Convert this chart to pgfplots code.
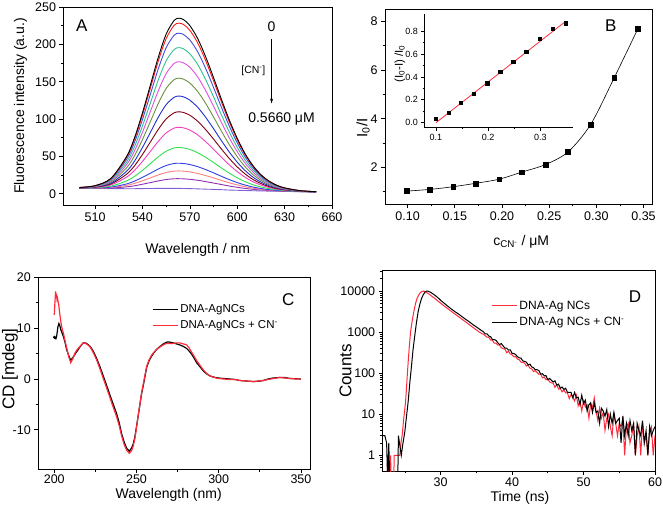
\documentclass[border=0pt]{standalone}
\usepackage{fontspec}
\setmainfont{Liberation Sans}
\usepackage{pgfplots}
\pgfplotsset{compat=1.18}
\usepackage{pgfplotstable}
\usetikzlibrary{arrows.meta}

\definecolor{k1}{HTML}{000000}
\definecolor{k2}{HTML}{FF1A1A}
\definecolor{k3}{HTML}{4050D8}
\definecolor{k4}{HTML}{30C090}
\definecolor{k5}{HTML}{E050E0}
\definecolor{k6}{HTML}{6A9040}
\definecolor{k7}{HTML}{2030D0}
\definecolor{k8}{HTML}{800010}
\definecolor{k9}{HTML}{F040C0}
\definecolor{k10}{HTML}{30E050}
\definecolor{k11}{HTML}{3040E8}
\definecolor{k12}{HTML}{FF8080}
\definecolor{k13}{HTML}{9030B0}
\definecolor{k14}{HTML}{8060D8}
\definecolor{cdred}{HTML}{FF2A3A}

\pgfplotstableread{
x c1 c2 c3 c4 c5 c6 c7 c8 c9 c10 c11 c12 c13 c14
500 8.4 8.4 8.3 8.3 8.2 8.1 8.0 7.9 7.8 7.7 7.6 7.6 7.6 7.5
510 10.9 10.8 10.6 10.2 9.9 9.6 9.2 8.9 8.5 8.1 7.8 7.6 7.4 7.2
520 20.6 20.2 19.4 18.2 17.1 15.8 14.3 13.1 11.8 10.2 8.9 8.3 7.7 6.9
530 50.1 48.9 46.3 42.6 39.1 34.9 30.3 26.3 22.4 17.3 13.2 11.3 9.3 6.8
535 75.2 73.2 69.2 63.4 57.7 51.1 43.9 37.6 31.4 23.3 17.0 13.9 10.7 6.8
540 108.4 105.4 99.4 90.8 82.4 72.6 62.0 52.6 43.4 31.4 22.0 17.4 12.8 7.0
545 145.4 141.4 133.2 121.5 110.0 96.6 82.1 69.3 56.7 40.4 27.5 21.3 15.0 7.1
550 182.6 177.5 167.1 152.3 137.7 120.8 102.4 86.1 70.2 49.4 33.1 25.2 17.2 7.2
555 213.7 207.7 195.5 178.0 160.9 141.0 119.3 100.2 81.4 57.0 37.9 28.5 19.1 7.3
560 231.9 225.4 212.1 193.0 174.4 152.7 129.1 108.3 87.9 61.3 40.5 30.3 20.1 7.3
563 235.0 228.4 214.9 195.6 176.7 154.7 130.8 109.7 89.0 62.0 40.9 30.6 20.2 7.2
566 233.1 226.5 213.1 194.0 175.2 153.4 129.7 108.8 88.2 61.4 40.5 30.3 20.0 7.1
570 225.2 218.8 205.9 187.4 169.3 148.2 125.3 105.1 85.3 59.4 39.2 29.3 19.4 6.9
575 207.6 201.8 189.9 172.9 156.2 136.8 115.7 97.0 78.8 54.9 36.3 27.2 18.1 6.6
580 183.4 178.3 167.8 152.8 138.1 121.0 102.4 85.9 69.8 48.8 32.4 24.4 16.3 6.2
585 155.5 151.2 142.3 129.7 117.2 102.8 87.1 73.2 59.6 41.9 28.0 21.3 14.4 5.9
590 126.4 122.9 115.7 105.5 95.5 83.8 71.1 59.9 48.9 34.6 23.4 17.9 12.4 5.5
595 98.7 96.0 90.4 82.5 74.7 65.7 55.8 47.2 38.7 27.6 18.9 14.7 10.4 5.0
600 74.2 72.2 68.1 62.2 56.4 49.7 42.4 36.0 29.7 21.5 15.0 11.9 8.7 4.7
605 53.6 52.2 49.3 45.1 41.0 36.2 31.1 26.5 22.1 16.2 11.7 9.4 7.2 4.4
610 37.6 36.6 34.6 31.8 29.0 25.7 22.2 19.1 16.1 12.1 9.0 7.5 6.0 4.1
615 25.6 25.0 23.7 21.9 20.1 18.0 15.7 13.7 11.7 9.1 7.1 6.1 5.1 3.8
620 17.2 16.8 16.0 14.8 13.7 12.4 11.0 9.7 8.5 6.9 5.6 5.0 4.4 3.6
625 11.5 11.3 10.8 10.1 9.4 8.7 7.8 7.0 6.3 5.4 4.6 4.2 3.9 3.4
630 7.9 7.7 7.5 7.1 6.7 6.2 5.7 5.3 4.9 4.3 3.9 3.7 3.5 3.2
640 4.1 4.1 4.0 3.9 3.8 3.7 3.5 3.4 3.3 3.1 3.0 3.0 2.9 2.8
650 2.8 2.8 2.8 2.8 2.7 2.7 2.7 2.6 2.6 2.6 2.5 2.5 2.5 2.5
}\specA

\pgfplotstableread{
x y
0.099 1.03
0.1236 1.10
0.1483 1.21
0.172 1.35
0.197 1.52
0.221 1.81
0.246 2.12
0.270 2.64
0.294 3.77
0.319 5.69
0.344 7.70
}\ratioB

\pgfplotstableread{
x y
0.100 0.032
0.1236 0.088
0.1479 0.172
0.173 0.251
0.198 0.345
0.223 0.447
0.248 0.531
0.273 0.622
0.299 0.736
0.323 0.823
0.348 0.870
}\insetB

\begin{document}
\begin{tikzpicture}
\path[use as bounding box] (0pt,0pt) rectangle (663pt,506pt);
\pgfplotsset{
  every axis/.append style={
    scale only axis, anchor=south west,
    tick align=outside, xtick pos=bottom, ytick pos=left,
    /pgf/number format/assume math mode=true,
    tick label style={font=\fontsize{12.5}{15}\selectfont, black},
    label style={font=\fontsize{14}{17}\selectfont},
    axis line style={line width=0.8pt},
    major tick length=4pt, minor tick length=2.5pt,
    every tick/.style={black, line width=0.7pt},
  },
}
% ---------------- A
\begin{axis}[at={(63.5pt,301pt)}, width=268.5pt, height=198pt,
  xmin=490, xmax=660, ymin=-15, ymax=250,
  xtick={510,540,570,600,630,660}, minor x tick num=1,
  ytick={0,50,100,150,200,250}, minor y tick num=1,
  xlabel={Wavelength / nm}, ylabel={Fluorescence intensity (a.u.)},
  xlabel style={at={(axis description cs:0.5,-0.225)}, anchor=center},
  ylabel style={at={(axis description cs:-0.16,0.5)}, anchor=center},
  every axis plot/.append style={line width=0.9pt, smooth}]
\addplot[k14] table[x=x,y=c14]{\specA};
\addplot[k13] table[x=x,y=c13]{\specA};
\addplot[k12] table[x=x,y=c12]{\specA};
\addplot[k11] table[x=x,y=c11]{\specA};
\addplot[k10] table[x=x,y=c10]{\specA};
\addplot[k9] table[x=x,y=c9]{\specA};
\addplot[k8] table[x=x,y=c8]{\specA};
\addplot[k7] table[x=x,y=c7]{\specA};
\addplot[k6] table[x=x,y=c6]{\specA};
\addplot[k5] table[x=x,y=c5]{\specA};
\addplot[k4] table[x=x,y=c4]{\specA};
\addplot[k3] table[x=x,y=c3]{\specA};
\addplot[k2] table[x=x,y=c2]{\specA};
\addplot[k1] table[x=x,y=c1]{\specA};
\node at (rel axis cs:0.068,0.905) {\fontsize{17}{20}\selectfont A};
\node at (rel axis cs:0.775,0.9) {\fontsize{14}{17}\selectfont 0};
\draw[-{Stealth[length=5pt,width=3pt]}, line width=0.5pt] (rel axis cs:0.775,0.838) -- (rel axis cs:0.775,0.513);
\node at (rel axis cs:0.707,0.677) {\fontsize{10.5}{12}\selectfont [CN\textsuperscript{-}]};
\node at (rel axis cs:0.812,0.434) {\fontsize{14}{17}\selectfont 0.5660 μM};
\end{axis}
% ---------------- B
\begin{axis}[at={(385pt,302pt)}, width=267pt, height=194.7pt,
  xmin=0.076, xmax=0.359, ymin=0.5, ymax=8.5,
  xtick={0.1,0.15,0.2,0.25,0.3,0.35}, minor x tick num=1,
  xticklabel style={/pgf/number format/.cd, fixed, fixed zerofill, precision=2},
  ytick={2,4,6,8}, minor ytick={1,3,5,7},
  xlabel={c\textsubscript{CN\textsuperscript{-}} / μM},
  ylabel={\fontsize{15}{17}\selectfont I\textsubscript{0}/I},
  xlabel style={at={(axis description cs:0.51,-0.194)}, anchor=center},
  ylabel style={at={(axis description cs:-0.082,0.39)}, anchor=center}]
\addplot[black, line width=0.6pt, smooth] table{\ratioB};
\addplot[black, only marks, mark=square*, mark size=2.4pt] table{\ratioB};
\node at (rel axis cs:0.846,0.915) {\fontsize{17}{20}\selectfont B};
\end{axis}
% ---------------- B inset
\begin{axis}[at={(424.3pt,378.3pt)}, width=148.4pt, height=113.7pt,
  axis x line*=bottom, axis y line*=left,
  x axis line style={-}, y axis line style={-},
  xmin=0.0776, xmax=0.362, ymin=-0.044, ymax=0.951,
  xtick={0.1,0.2,0.3}, minor x tick num=1,
  ytick={0,0.2,0.4,0.6,0.8}, minor y tick num=1,
  xticklabel style={/pgf/number format/.cd, fixed, fixed zerofill, precision=1},
  yticklabel style={/pgf/number format/.cd, fixed, fixed zerofill, precision=1},
  tick label style={font=\fontsize{9}{10}\selectfont},
  major tick length=3pt, minor tick length=1.8pt,
  ylabel={(I\textsubscript{0}-I) /I\textsubscript{0}},
  ylabel style={font=\fontsize{11.5}{13}\selectfont, at={(axis description cs:-0.165,0.56)}, anchor=center}]
\addplot[cdred, line width=0.8pt] coordinates {(0.100,0.000) (0.348,0.885)};
\addplot[black, only marks, mark=square*, mark size=1.6pt] table{\insetB};
\end{axis}
% ---------------- C
\begin{axis}[at={(38.3pt,37pt)}, width=271.7pt, height=191.7pt,
  xmin=190.3, xmax=355.5, ymin=-17.7, ymax=20,
  xtick={200,250,300,350}, minor x tick num=1,
  ytick={-10,0,10,20}, minor y tick num=1,
  xticklabel style={yshift=1.5pt},
  xlabel={Wavelength (nm)}, ylabel={\fontsize{17}{20}\selectfont CD [mdeg]},
  xlabel style={at={(axis description cs:0.48,-0.134)}, anchor=center},
  ylabel style={at={(axis description cs:-0.104,0.52)}, anchor=center},
  legend style={draw=none, fill=none, at={(rel axis cs:0.418,0.868)}, anchor=north west,
    font=\fontsize{11.5}{13}\selectfont, inner sep=0pt, row sep=2.5pt},
  legend cell align=left,
  legend image code/.code={\draw[#1, line width=1.3pt] (0pt,0pt) -- (25pt,0pt);}]
\addplot[black, line width=1.2pt] coordinates {
(200.0,8.2) (200.5,8.0) (201.0,7.9) (201.5,8.5) (202.2,10.2) (202.8,10.9) (203.3,10.6) (204.0,9.7) (204.8,9.0) (205.5,8.4) (206.5,7.3) (207.5,5.8) (208.8,4.6) (210.0,3.7) (211.3,4.2) (212.6,4.9) (214.0,5.5) (215.6,6.3) (217.6,7.1) (219.0,7.1) (220.0,6.9) (221.5,6.5) (222.7,6.0) (224.0,5.3) (225.7,4.1) (227.8,2.4) (229.8,0.6) (231.8,-1.2) (233.9,-3.2) (235.9,-5.0) (237.9,-6.8) (239.5,-8.6) (240.9,-10.7) (242.5,-12.4) (244.0,-13.6) (245.6,-14.2) (247.0,-13.6) (248.0,-12.8) (249.0,-11.4) (250.0,-9.4) (251.1,-7.1) (252.1,-5.0) (253.1,-2.9) (254.6,-0.5) (256.2,2.3) (257.7,3.6) (259.2,4.5) (260.7,5.2) (262.2,5.8) (264.3,6.4) (266.3,6.9) (268.0,7.2) (269.3,7.3) (271.0,7.2) (272.4,7.1) (274.4,6.9) (276.4,6.7) (278.5,6.4) (280.5,6.0) (282.0,5.5) (283.5,4.9) (285.0,4.1) (286.6,3.2) (288.6,2.4) (290.6,1.6) (292.7,1.0) (294.7,0.6) (297.2,0.35) (299.7,0.2) (303.0,0.1) (306.8,0.0) (310.0,-0.1) (312.9,-0.3) (317.0,-0.4) (321.0,-0.5) (324.0,-0.45) (327.1,-0.3) (330.0,0.0) (333.2,0.2) (337.2,0.3) (340.0,0.3) (343.3,0.1) (347.0,0.05) (350.0,0.0)};
\addlegendentry{DNA-AgNCs}
\addplot[cdred, line width=1.2pt] coordinates {
(200.0,12.6) (200.4,15.0) (200.8,17.2) (201.1,16.2) (201.4,16.4) (201.7,15.6) (202.0,15.9) (202.3,15.2) (202.6,14.9) (203.0,13.8) (203.4,12.7) (204.2,10.8) (205.0,9.6) (205.5,9.1) (206.5,7.6) (207.5,6.2) (208.8,4.4) (210.0,3.2) (211.3,4.0) (212.6,5.1) (214.0,5.8) (215.6,6.4) (217.6,7.1) (219.0,7.0) (220.0,6.8) (221.5,6.4) (222.7,5.8) (224.0,5.0) (225.7,3.8) (227.8,2.0) (229.8,0.1) (231.8,-1.7) (233.9,-3.7) (235.9,-5.6) (237.9,-7.4) (239.5,-9.2) (240.9,-11.1) (242.5,-12.9) (244.0,-14.0) (245.6,-14.6) (247.0,-14.1) (248.0,-13.2) (249.0,-11.8) (250.0,-9.6) (251.1,-7.0) (252.1,-4.9) (253.1,-2.7) (254.6,-0.2) (256.2,2.5) (257.7,3.8) (259.2,4.7) (260.7,5.3) (262.2,5.8) (264.3,6.3) (266.3,6.7) (268.0,7.0) (269.3,7.0) (271.0,7.0) (272.4,7.0) (274.4,7.1) (276.4,7.1) (278.5,6.9) (280.5,6.7) (282.0,6.1) (283.5,5.3) (285.0,4.5) (286.6,3.6) (288.6,2.7) (290.6,1.8) (292.7,1.1) (294.7,0.6) (297.2,0.3) (299.7,0.1) (303.0,0.0) (306.8,-0.1) (310.0,-0.1) (312.9,-0.3) (317.0,-0.4) (321.0,-0.5) (324.0,-0.4) (327.1,-0.3) (330.0,-0.1) (333.2,0.1) (337.2,0.3) (340.0,0.2) (343.3,0.1) (347.0,0.0) (350.0,0.0)};
\addlegendentry{DNA-AgNCs + CN\textsuperscript{-}}
\addplot[black, only marks, mark=*, mark size=1.4pt, forget plot] coordinates {(200.2,8.2)};
\node at (rel axis cs:0.92,0.882) {\fontsize{17}{20}\selectfont C};
\end{axis}
% ---------------- D
\begin{axis}[at={(382.7pt,35pt)}, width=272.3pt, height=200.3pt,
  ymode=log, xmin=21.9, xmax=60, ymin=0.414, ymax=31250,
  xtick={30,40,50,60}, minor xtick={25,35,45,55},
  ytick={1,10,100,1000,10000}, yticklabels={1,10,100,1000,10000},
  minor ytick={0.5,0.6,0.7,0.8,0.9,2,3,4,5,6,7,8,9,20,30,40,50,60,70,80,90,200,300,400,500,600,700,800,900,2000,3000,4000,5000,6000,7000,8000,9000,20000,30000},
  xticklabel style={yshift=1pt},
  xlabel={Time (ns)}, ylabel={\fontsize{17}{20}\selectfont Counts},
  xlabel style={at={(axis description cs:0.504,-0.135)}, anchor=center},
  ylabel style={at={(axis description cs:-0.137,0.5)}, anchor=center},
  legend style={draw=none, fill=none, at={(rel axis cs:0.398,0.86)}, anchor=north west,
    font=\fontsize{12}{14}\selectfont, inner sep=0pt, row sep=2.5pt},
  legend cell align=left,
  legend image code/.code={\draw[#1, line width=1.2pt] (0pt,0pt) -- (25pt,0pt);}]
\addplot[cdred, line width=1pt] coordinates {
(21.9,0.2) (22.5,0.2) (22.6,1) (22.7,0.2) (22.9,0.2) (23.0,1) (23.1,0.2) (23.45,0.2) (23.5,1) (24.1,1) (24.3,1) (24.45,2) (24.65,3.3) (24.8,6.6) (25.1,20) (25.25,50) (25.4,130) (25.6,400) (25.8,1020) (26.05,2000) (26.3,3450) (26.5,5000) (26.7,6600) (26.95,8100) (27.2,9300) (27.6,10000) (27.9,9500) (28.3,8600) (28.8,7400) (29.3,6350) (29.8,5400) (30.3,4600) (30.8,3950) (31.3,3400) (31.8,2920) (32.3,2520) (32.8,2180) (33.3,1880) (33.8,1620) (34.3,1390) (34.8,1200) (35.3,1030) (35.8,910)
(36.00,890) (36.25,815) (36.50,749) (36.75,748) (37.00,633) (37.25,633) (37.50,538) (37.75,539) (38.00,483) (38.25,488) (38.50,411) (38.75,396) (39.00,385) (39.25,314) (39.50,341) (39.75,295) (40.00,280) (40.25,249) (40.50,254) (40.75,220) (41.00,213) (41.25,185) (41.50,182) (41.75,175) (42.00,150) (42.25,155) (42.50,132) (42.75,127) (43.00,109) (43.25,115) (43.50,104) (43.75,94) (44.00,95) (44.25,77) (44.50,80) (44.75,69) (45.00,73) (45.25,61) (45.50,58) (45.75,57) (46.00,45) (46.25,53) (46.50,41) (46.75,42) (47.00,35) (47.25,39) (47.50,33) (47.75,33) (48.00,24) (48.25,30) (48.50,26) (48.75,21) (49.00,29) (49.25,16) (49.50,21) (49.75,12) (50.00,21) (50.25,15) (50.50,17) (50.75,8) (51.00,18) (51.25,14) (51.50,25) (51.75,12) (52.00,7) (52.25,14) (52.50,8) (52.75,11) (53.00,4) (53.25,8) (53.50,10) (53.75,5) (54.00,3) (54.25,10) (54.50,6) (54.75,3) (55.00,6) (55.25,5) (55.50,8) (55.75,1) (56.00,5) (56.25,6) (56.50,2) (56.75,3) (57.00,6) (57.25,1) (57.50,3) (57.75,5) (58.00,1) (58.25,6) (58.50,2) (58.75,3) (59.00,1) (59.25,4) (59.50,5) (59.75,1) (60.00,3)};
\addlegendentry{DNA-Ag NCs}
\addplot[black, line width=1pt] coordinates {
(21.9,3) (22.2,3) (22.45,2) (22.6,0.2) (22.75,2) (22.9,0.2) (24.0,0.2) (24.1,3) (24.5,1) (24.7,1.8) (25.0,3.8) (25.2,8) (25.46,20) (25.7,60) (25.94,155) (26.15,380) (26.4,850) (26.6,1600) (26.86,3150) (27.1,4800) (27.34,6600) (27.6,8300) (27.85,9500) (28.04,10000) (28.3,9850) (28.7,9100) (29.2,7900) (29.7,6700) (30.0,5950) (30.5,5050) (31.0,4280) (31.5,3650) (32.0,3150) (32.5,2760) (33.0,2380) (33.5,2050) (34.0,1790) (34.5,1530) (35.0,1340) (35.5,1160)
(36.00,1013) (36.25,904) (36.50,907) (36.75,801) (37.00,772) (37.25,659) (37.50,654) (37.75,633) (38.00,550) (38.25,498) (38.50,526) (38.75,460) (39.00,407) (39.25,406) (39.50,365) (39.75,369) (40.00,303) (40.25,300) (40.50,284) (40.75,251) (41.00,236) (41.25,232) (41.50,199) (41.75,193) (42.00,186) (42.25,158) (42.50,166) (42.75,142) (43.00,136) (43.25,121) (43.50,121) (43.75,116) (44.00,95) (44.25,97) (44.50,86) (44.75,87) (45.00,69) (45.25,74) (45.50,67) (45.75,61) (46.00,65) (46.25,51) (46.50,54) (46.75,43) (47.00,46) (47.25,40) (47.50,43) (47.75,34) (48.00,34) (48.25,34) (48.50,25) (48.75,34) (49.00,25) (49.25,26) (49.50,17) (49.75,29) (50.00,18) (50.25,22) (50.50,12) (50.75,17) (51.00,19) (51.25,11) (51.50,19) (51.75,11) (52.00,12) (52.25,6) (52.50,14) (52.75,12) (53.00,9) (53.25,13) (53.50,5) (53.75,10) (54.00,6) (54.25,11) (54.50,6) (54.75,7) (55.00,8) (55.25,2) (55.50,9) (55.75,3) (56.00,6) (56.25,3) (56.50,7) (56.75,4) (57.00,6) (57.25,1) (57.50,6) (57.75,4) (58.00,3) (58.25,7) (58.50,2) (58.75,4) (59.00,1) (59.25,5) (59.50,3) (59.75,4) (60.00,5)};
\addlegendentry{DNA-Ag NCs + CN\textsuperscript{-}}
\node at (rel axis cs:0.927,0.87) {\fontsize{17}{20}\selectfont D};
\end{axis}
\end{tikzpicture}
\end{document}
